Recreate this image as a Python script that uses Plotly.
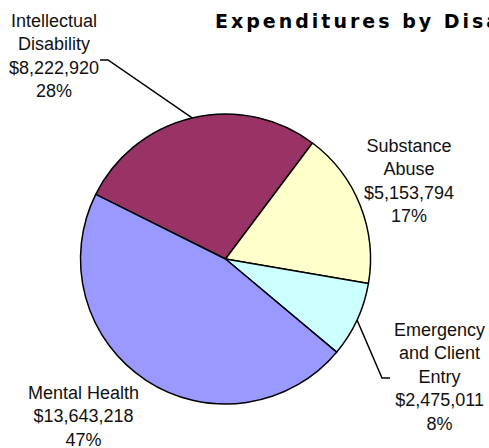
import math
import plotly.graph_objects as go

# ---- data ----
categories = ["Intellectual Disability", "Substance Abuse", "Emergency and Client Entry", "Mental Health"]
label_lines = [["Intellectual", "Disability"], ["Substance", "Abuse"], ["Emergency", "and Client", "Entry"], ["Mental Health"]]
values = [8222920, 5153794, 2475011, 13643218]
value_labels = ["$8,222,920", "$5,153,794", "$2,475,011", "$13,643,218"]
percent_labels = ["28%", "17%", "8%", "47%"]
colors = ["#993366", "#FFFFCC", "#CCFFFF", "#9999FF"]
title_text = "Expenditures by Disability"

W, H = 489, 448
cx, cy, R = 225.5, 259.0, 145.0
ROT = -63.5


def px(x):
    return x / W


def py(y):
    return 1 - y / H


fig = go.Figure(go.Pie(
    labels=categories,
    values=values,
    sort=False,
    direction="clockwise",
    rotation=ROT,
    marker=dict(colors=colors, line=dict(color="#000000", width=1.5)),
    textinfo="none",
    hoverinfo="label+value+percent",
    showlegend=False,
    domain=dict(x=[px(cx - R), px(cx + R)], y=[py(cy + R), py(cy - R)]),
))

# label placement (text block centers)
label_pos = [(54, 56), (409, 181), (439, 377), (83, 416)]
for lines, val, pct, (lx, ly) in zip(label_lines, value_labels, percent_labels, label_pos):
    txt = "<br>".join(lines + [val, pct])
    fig.add_annotation(x=px(lx), y=py(ly), xref="paper", yref="paper", text=txt,
                       showarrow=False, xanchor="center", yanchor="middle",
                       font=dict(family="Liberation Sans, Arial, sans-serif", size=18, color="#111111"),
                       align="center")

# leader lines to slice midpoints (angles derived from data)
total = sum(values)
cum = 0
mids = []
for v in values:
    a0 = ROT + 360 * cum / total
    cum += v
    a1 = ROT + 360 * cum / total
    mids.append((a0 + a1) / 2)


def edge(ang):
    r = math.radians(ang)
    return cx + R * math.sin(r), cy - R * math.cos(r)

# Intellectual Disability leader
ex, ey = edge(mids[0])
fig.add_shape(type="path", xref="paper", yref="paper",
              path=f"M {px(100)},{py(60)} L {px(108)},{py(60)} L {px(ex)},{py(ey)}",
              line=dict(color="#000000", width=1.5))
# Emergency leader
ex, ey = edge(mids[2])
fig.add_shape(type="path", xref="paper", yref="paper",
              path=f"M {px(ex)},{py(ey)} L {px(382)},{py(378)} L {px(390)},{py(378)}",
              line=dict(color="#000000", width=1.5))

# title (clipped at right edge as in the reference)
fig.add_annotation(x=px(213), y=py(21), xref="paper", yref="paper",
                   text=f'<span style="letter-spacing:3px">{title_text}</span>',
                   showarrow=False, xanchor="left", yanchor="middle",
                   font=dict(family="DejaVu Sans, sans-serif", size=19, color="#000000", weight="bold"))

fig.update_layout(width=W, height=H, margin=dict(l=0, r=0, t=0, b=0),
                  paper_bgcolor="#FFFFFF", plot_bgcolor="#FFFFFF")

fig.write_html("out.html", config={"displayModeBar": False},
               post_script="document.body.style.margin='0';")
